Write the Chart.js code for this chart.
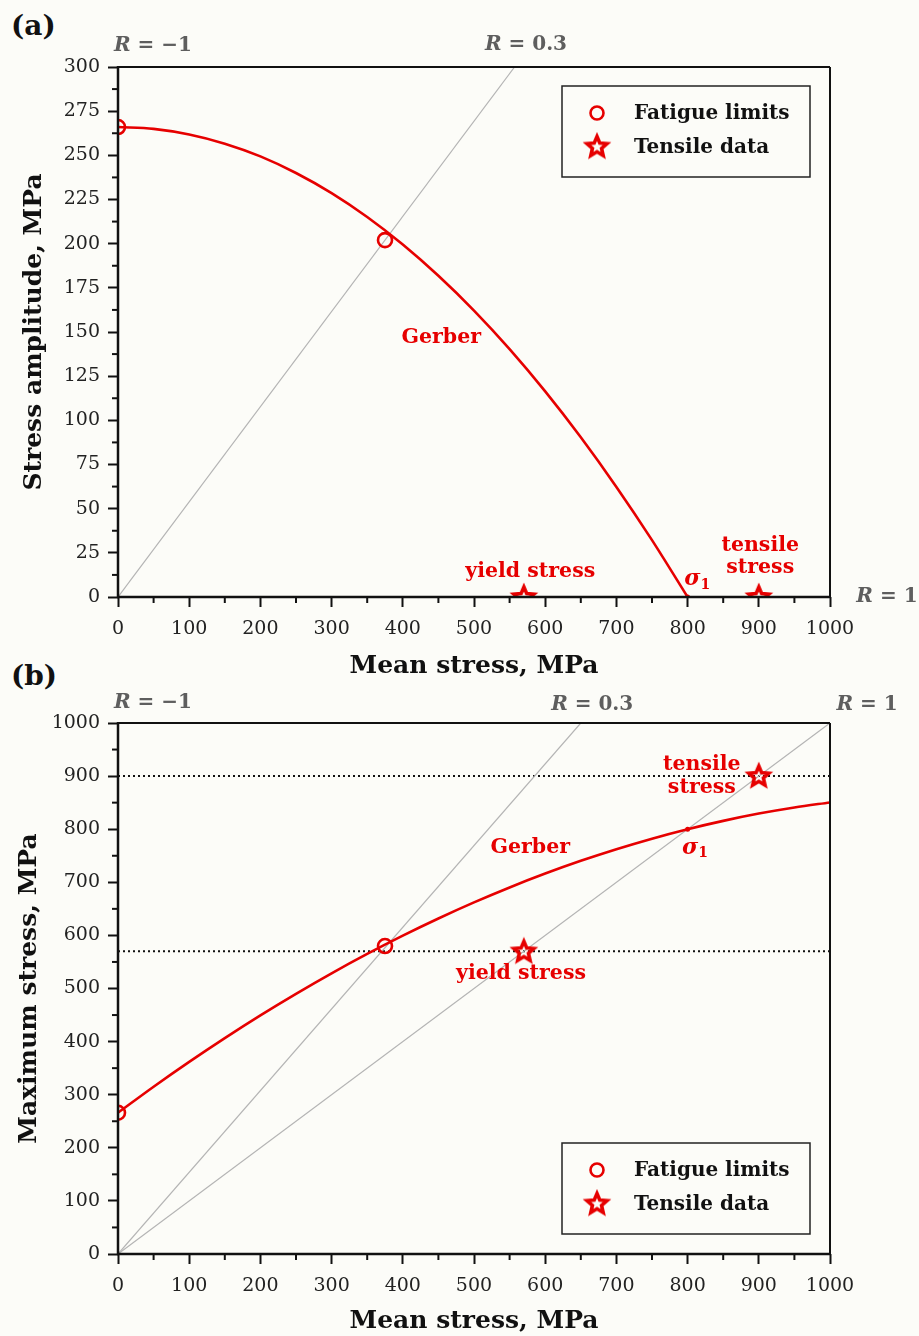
<!DOCTYPE html>
<html><head><meta charset="utf-8">
<script src="https://cdn.jsdelivr.net/npm/chart.js@4.4.1/dist/chart.umd.min.js"></script>
<style>
html,body{margin:0;padding:0;background:#fcfcf8;}
#wrap{position:relative;width:919px;height:1336px;overflow:hidden;background:#fcfcf8;}
.panel{position:absolute;left:11px;font:bold 28px "DejaVu Serif",serif;color:#111;}
.holder{position:absolute;left:0;width:919px;}
canvas{display:block;}
</style></head><body>
<div id="wrap">
<div class="panel" style="top:9px">(a)</div>
<div class="panel" style="top:659px">(b)</div>
<div class="holder" style="top:0;height:685px"><canvas id="c1" width="919" height="685"></canvas></div>
<div class="holder" style="top:685px;height:651px"><canvas id="c2" width="919" height="651"></canvas></div>
</div>
<script>
// ---------------- data ----------------
const meanStressMinorTicks = [50,150,250,350,450,550,650,750,850,950];
const ampMinorTicks = [12.5,37.5,62.5,87.5,112.5,137.5,162.5,187.5,212.5,237.5,262.5,287.5];
const maxStressMinorTicks = [50,150,250,350,450,550,650,750,850,950];

// panel (a): Gerber curve, stress amplitude vs mean stress
const gerberMeanA = [0,50,100,150,200,250,300,350,400,450,500,550,600,650,700,750,800];
const gerberAmpA  = [266,265,261.8,256.6,249.4,240,228.6,215.1,199.5,181.8,162.1,140.3,116.4,90.4,62.3,32.2,0];
// panel (b): Gerber curve, maximum stress vs mean stress
const gerberMeanB = [0,50,100,150,200,250,300,350,400,450,500,550,600,650,700,750,800,850,900,950,1000];
const gerberMaxB  = [266,315,361.8,406.6,449.4,490,528.6,565.1,599.5,631.8,662.1,690.3,716.4,740.4,762.3,782.2,800,815.7,829.4,840.9,850.4];

// fatigue limits
const fatigueMean = [0,375];
const fatigueAmpA = [266,202];
const fatigueMaxB = [266,580];
// tensile data (yield stress, tensile stress)
const tensileMean = [570,900];
const tensileAmpA = [0,0];
const tensileMaxB = [570,900];
// sigma_1 point
const sigma1Mean = [800];
const sigma1AmpA = [0];
const sigma1MaxB = [800];
// R-ratio lines
const rLine03MeanA = [0,557];  const rLine03AmpA = [0,300];
const rLine03MeanB = [0,650];  const rLine03MaxB = [0,1000];
const rLine1MeanB  = [0,1000]; const rLine1MaxB  = [0,1000];
// horizontal reference lines in (b)
const yieldStress = 570;
const tensileStress = 900;
const refLineMean = [0,1000];

// text annotations (data coordinates)
const notesA = [
  {kind:'red', text:'Gerber', x:454, y:147},
  {kind:'red', text:'yield stress', x:579, y:14.5},
  {kind:'red', text:'tensile', x:902, y:29},
  {kind:'red', text:'stress', x:902, y:16.5},
  {kind:'sigma', x:813, y:10},
  {kind:'R', text:'\u22121', x:49, y:312},
  {kind:'R', text:'0.3', x:573, y:312.5},
  {kind:'R', text:'1', x:1080, y:0}
];
const notesB = [
  {kind:'red', text:'Gerber', x:579, y:766},
  {kind:'red', text:'yield stress', x:566, y:527},
  {kind:'red', text:'tensile', x:820, y:921},
  {kind:'red', text:'stress', x:820, y:879},
  {kind:'sigma', x:810, y:765},
  {kind:'R', text:'\u22121', x:49, y:1038},
  {kind:'R', text:'0.3', x:666, y:1034},
  {kind:'R', text:'1', x:1052, y:1034}
];
const legendLabels = ['Fatigue limits','Tensile data'];

// ---------------- styling ----------------
const F = '"DejaVu Serif", serif';
const RED = '#e60000';
const GREY_LINE = '#b4b4b4';
const INK = '#111';

function pts(xs, ys){ return xs.map((v,i)=>({x:v, y:ys[i]})); }

function makeStar(){
  const c = document.createElement('canvas');
  c.width = 30; c.height = 30;
  const g = c.getContext('2d');
  g.translate(15,15.5);
  g.beginPath();
  const R1 = 10.5, R2 = 4.8;
  for (let i=0;i<10;i++){
    const r = i%2===0 ? R1 : R2;
    const a = -Math.PI/2 + i*Math.PI/5;
    const px = r*Math.cos(a), py = r*Math.sin(a);
    if (i===0) g.moveTo(px,py); else g.lineTo(px,py);
  }
  g.closePath();
  g.lineWidth = 3.6; g.lineJoin = 'miter'; g.strokeStyle = RED;
  g.stroke();
  return c;
}
const STAR = makeStar();

function line(ctx,x1,y1,x2,y2){ ctx.beginPath(); ctx.moveTo(x1,y1); ctx.lineTo(x2,y2); ctx.stroke(); }

function drawR(ctx, txt, cx, cy){
  const f1 = 'italic bold 20px ' + F, f2 = 'bold 20px ' + F;
  ctx.font = f1; const w1 = ctx.measureText('R').width;
  ctx.font = f2; const rest = ' = ' + txt; const w2 = ctx.measureText(rest).width;
  let x0 = cx - (w1+w2)/2;
  ctx.fillStyle = '#5e5e5e'; ctx.textAlign='left'; ctx.textBaseline='middle';
  ctx.font = f1; ctx.fillText('R', x0, cy);
  ctx.font = f2; ctx.fillText(rest, x0+w1, cy);
}
function drawSigma(ctx, cx, cy){
  ctx.fillStyle = RED; ctx.textAlign='left'; ctx.textBaseline='middle';
  ctx.font = 'italic bold 22px ' + F; const w = ctx.measureText('\u03c3').width;
  const x0 = cx - (w + 9)/2;
  ctx.fillText('\u03c3', x0, cy);
  ctx.font = 'bold 14px ' + F; ctx.fillText('1', x0 + w, cy + 6);
}

const decor = {
  id:'decor',
  afterDatasetsDraw(chart, args, o){
    const {ctx, chartArea:a, scales:{x,y}} = chart;
    ctx.save();
    ctx.strokeStyle = INK; ctx.lineWidth = 2;
    o.minorX.forEach(v=>{ const px=x.getPixelForValue(v); line(ctx,px,a.bottom,px,a.bottom+6); });
    o.minorY.forEach(v=>{ const py=y.getPixelForValue(v); line(ctx,a.left-6,py,a.left,py); });
    // frame
    ctx.lineWidth = 2;
    line(ctx,a.left,a.top,a.right,a.top);
    line(ctx,a.right,a.top,a.right,a.bottom);
    ctx.lineWidth = 2.5;
    line(ctx,a.left,a.top-1,a.left,a.bottom+1);
    line(ctx,a.left-1,a.bottom,a.right+1,a.bottom);
    // annotations
    o.notes.forEach(n=>{
      const px = x.getPixelForValue(n.x), py = y.getPixelForValue(n.y);
      if (n.kind==='red'){
        ctx.fillStyle=RED; ctx.font='bold 20.5px '+F; ctx.textAlign='center'; ctx.textBaseline='middle';
        ctx.fillText(n.text, px, py);
      } else if (n.kind==='R'){ drawR(ctx, n.text, px, py); }
      else if (n.kind==='sigma'){ drawSigma(ctx, px, py); }
    });
    // legend
    const bw = 248, bh = 91;
    const bx = a.right - 268;
    const by = o.legendTop ? a.top + 19 : a.bottom - 20 - bh;
    ctx.fillStyle = '#fcfcf8'; ctx.fillRect(bx,by,bw,bh);
    ctx.lineWidth = 1.5; ctx.strokeStyle = '#222'; ctx.strokeRect(bx,by,bw,bh);
    // circle marker
    ctx.beginPath(); ctx.arc(bx+35, by+27, 6.5, 0, Math.PI*2);
    ctx.lineWidth = 2.6; ctx.strokeStyle = RED; ctx.stroke();
    ctx.drawImage(STAR, bx+35-15, by+61-15.5);
    ctx.fillStyle = INK; ctx.font = 'bold 20px '+F; ctx.textAlign='left'; ctx.textBaseline='middle';
    ctx.fillText(legendLabels[0], bx+72, by+28);
    ctx.fillText(legendLabels[1], bx+72, by+62);
    ctx.restore();
  }
};

function plainTick(v){ return String(v); }

function xScale(titleBottom, height){
  return {
    type:'linear', min:0, max:1000,
    ticks:{stepSize:100, color:'#222', font:{family:F, size:19}, padding:11, maxRotation:0, autoSkip:false, callback:plainTick},
    grid:{drawOnChartArea:false, drawTicks:true, tickLength:10, tickWidth:2, tickColor:INK},
    border:{display:false},
    title:{display:true, text:'Mean stress, MPa', color:INK, font:{family:F, size:25, weight:'bold'}, padding:{top:0, bottom:titleBottom}},
    afterFit(s){ s.height = height; }
  };
}
function yScale(max, step, title, titleTop){
  return {
    type:'linear', min:0, max:max,
    ticks:{stepSize:step, color:'#222', font:{family:F, size:19}, padding:8, autoSkip:false, callback:plainTick},
    grid:{drawOnChartArea:false, drawTicks:true, tickLength:10, tickWidth:2, tickColor:INK},
    border:{display:false},
    title:{display:true, text:title, color:INK, font:{family:F, size:25, weight:'bold'}, padding:{top:titleTop, bottom:0}},
    afterFit(s){ s.width = 118; }
  };
}

const common = {
  responsive:false, animation:false,
  plugins:{legend:{display:false}, tooltip:{enabled:false}},
};

// ---------------- panel (a) ----------------
new Chart(document.getElementById('c1'), {
  type:'scatter',
  data:{datasets:[
    {label:'Fatigue limits', data:pts(fatigueMean, fatigueAmpA), pointStyle:'circle', pointRadius:7, borderWidth:2.6, borderColor:RED, backgroundColor:'rgba(0,0,0,0)', order:0},
    {label:'Tensile data', data:pts(tensileMean, tensileAmpA), pointStyle:STAR, pointRadius:11, borderColor:RED, clip:0, order:0},
    {label:'sigma1', data:pts(sigma1Mean, sigma1AmpA), pointStyle:'circle', pointRadius:2.5, borderWidth:0, backgroundColor:RED, order:0},
    {label:'Gerber', data:pts(gerberMeanA, gerberAmpA), showLine:true, borderColor:RED, borderWidth:2.6, pointRadius:0, cubicInterpolationMode:'monotone', order:1},
    {label:'R=0.3', data:pts(rLine03MeanA, rLine03AmpA), showLine:true, borderColor:GREY_LINE, borderWidth:1.2, pointRadius:0, order:2}
  ]},
  options:Object.assign({}, common, {
    layout:{padding:{top:67, right:89, left:0, bottom:0}},
    scales:{ x:xScale(4, 88), y:yScale(300, 25, 'Stress amplitude, MPa', 19) },
    plugins:Object.assign({}, common.plugins, {decor:{minorX:meanStressMinorTicks, minorY:ampMinorTicks, notes:notesA, legendTop:true}})
  }),
  plugins:[decor]
});

// ---------------- panel (b) ----------------
new Chart(document.getElementById('c2'), {
  type:'scatter',
  data:{datasets:[
    {label:'Fatigue limits', data:pts(fatigueMean, fatigueMaxB), pointStyle:'circle', pointRadius:7, borderWidth:2.6, borderColor:RED, backgroundColor:'rgba(0,0,0,0)', order:0},
    {label:'Tensile data', data:pts(tensileMean, tensileMaxB), pointStyle:STAR, pointRadius:11, borderColor:RED, order:0},
    {label:'sigma1', data:pts(sigma1Mean, sigma1MaxB), pointStyle:'circle', pointRadius:2.5, borderWidth:0, backgroundColor:RED, order:0},
    {label:'Gerber', data:pts(gerberMeanB, gerberMaxB), showLine:true, borderColor:RED, borderWidth:2.6, pointRadius:0, cubicInterpolationMode:'monotone', order:1},
    {label:'yield', data:pts(refLineMean, [yieldStress, yieldStress]), showLine:true, borderColor:INK, borderWidth:2, borderDash:[2,3], pointRadius:0, order:3},
    {label:'tensile', data:pts(refLineMean, [tensileStress, tensileStress]), showLine:true, borderColor:INK, borderWidth:2, borderDash:[2,3], pointRadius:0, order:3},
    {label:'R=0.3', data:pts(rLine03MeanB, rLine03MaxB), showLine:true, borderColor:GREY_LINE, borderWidth:1.2, pointRadius:0, order:2},
    {label:'R=1', data:pts(rLine1MeanB, rLine1MaxB), showLine:true, borderColor:GREY_LINE, borderWidth:1.2, pointRadius:0, order:2}
  ]},
  options:Object.assign({}, common, {
    layout:{padding:{top:38, right:89, left:0, bottom:0}},
    scales:{ x:xScale(0, 82), y:yScale(1000, 100, 'Maximum stress, MPa', 14) },
    plugins:Object.assign({}, common.plugins, {decor:{minorX:meanStressMinorTicks, minorY:maxStressMinorTicks, notes:notesB, legendTop:false}})
  }),
  plugins:[decor]
});
</script>
</body></html>
